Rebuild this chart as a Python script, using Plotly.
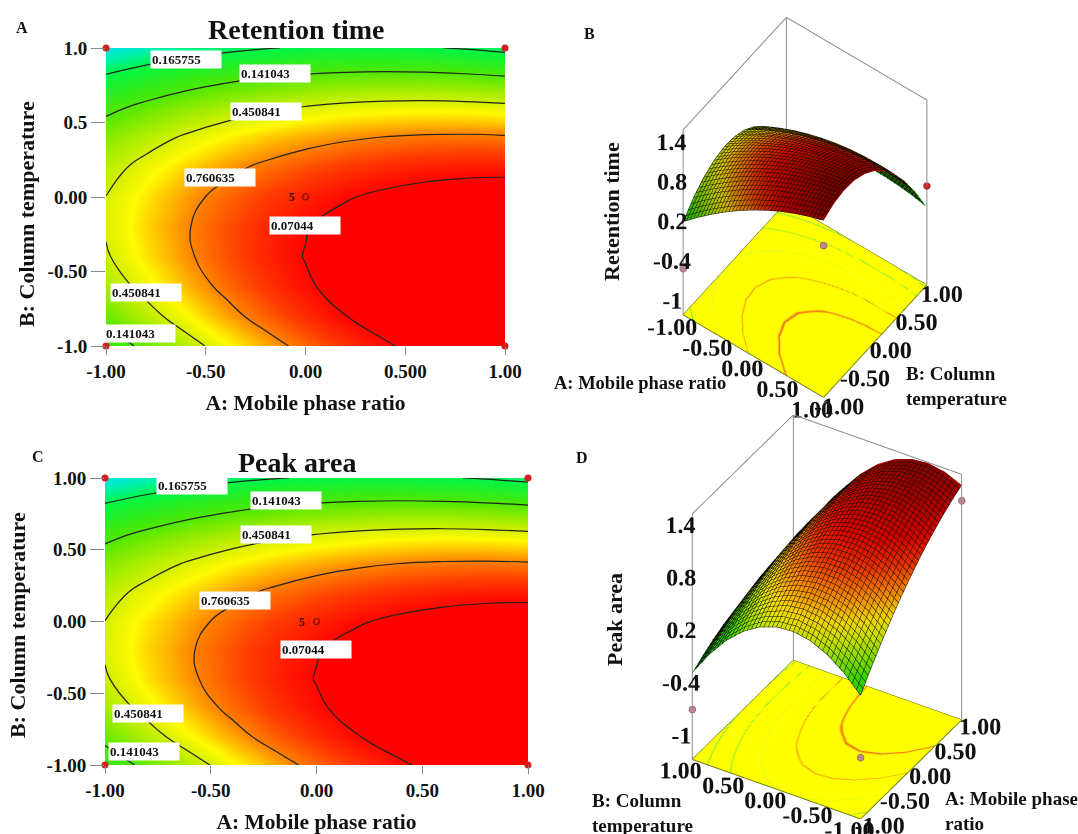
import plotly.graph_objects as go

W, H = 1078, 834
FONT = "Liberation Serif"

factor_a = [-1.0, -0.8, -0.6, -0.4, -0.2, 0.0, 0.2, 0.4, 0.6, 0.8, 1.0]
factor_b = [-1.0, -0.8, -0.6, -0.4, -0.2, 0.0, 0.2, 0.4, 0.6, 0.8, 1.0]
# rows follow factor_b, columns follow factor_a
response = [
    [0.010, 0.197, 0.371, 0.531, 0.678, 0.811, 0.931, 1.038, 1.131, 1.211, 1.278],
    [0.202, 0.378, 0.541, 0.691, 0.827, 0.949, 1.058, 1.154, 1.237, 1.306, 1.362],
    [0.342, 0.507, 0.660, 0.798, 0.923, 1.035, 1.133, 1.219, 1.290, 1.349, 1.394],
    [0.430, 0.585, 0.726, 0.854, 0.968, 1.069, 1.157, 1.231, 1.292, 1.339, 1.374],
    [0.466, 0.610, 0.740, 0.857, 0.961, 1.051, 1.128, 1.192, 1.241, 1.278, 1.302],
    [0.450, 0.583, 0.703, 0.809, 0.902, 0.981, 1.047, 1.100, 1.139, 1.165, 1.178],
    [0.382, 0.504, 0.613, 0.709, 0.790, 0.859, 0.914, 0.956, 0.985, 1.000, 1.002],
    [0.262, 0.373, 0.471, 0.556, 0.627, 0.685, 0.729, 0.761, 0.778, 0.783, 0.774],
    [0.090, 0.191, 0.278, 0.352, 0.412, 0.459, 0.493, 0.513, 0.520, 0.513, 0.494],
    [-0.134, -0.044, 0.033, 0.095, 0.145, 0.181, 0.204, 0.214, 0.209, 0.192, 0.162],
    [-0.410, -0.331, -0.266, -0.213, -0.175, -0.149, -0.137, -0.138, -0.153, -0.181, -0.222],
]
contour_levels = [-0.165755, 0.141043, 0.450841, 0.760635, 1.07044]

a_xticks = [-1, -0.5, 0, 0.5, 1]
a_xticktext = ["-1.00", "-0.50", "0.00", "0.500", "1.00"]
a_yticks = [-1, -0.5, 0, 0.5, 1]
a_yticktext = ["-1.0", "-0.50", "0.00", "0.5", "1.0"]
c_xticktext = ["-1.00", "-0.50", "0.00", "0.50", "1.00"]
c_yticktext = ["-1.00", "-0.50", "0.00", "0.50", "1.00"]

a_label_text = ["0.165755", "0.141043", "0.450841", "0.760635", "0.07044", "0.450841", "0.141043"]
a_label_x = [-0.60, -0.153, -0.198, -0.429, -0.003, -0.80, -0.83]
a_label_y = [0.926, 0.826, 0.577, 0.134, -0.188, -0.644, -0.913]
c_label_x = [-0.589, -0.144, -0.191, -0.385, -0.002, -0.797, -0.816]
c_label_y = [0.951, 0.84, 0.603, 0.143, -0.192, -0.638, -0.909]

design_a = [-1, 1, -1, 1]
design_b = [1, 1, -1, -1]
center_a = [0]
center_b = [0]
center_run_text = ["5"]

z_ticks = [-1, -0.4, 0.2, 0.8, 1.4]
z_floor = -1.4
z_ceiling = 1.4
b_point_a = [-1, 1, 1]
b_point_b = [-1, 1, -1]
b_point_z = [-0.7, 0.1, 0.9]
b_point_color = ["#b98a92", "#cc1f1f", "#b98a92"]
d_point_a = [-1, 1, -1]
d_point_b = [1, -1, -1]
d_point_z = [-0.83, 1.1, -0.7]

CMIN, CMAX = -0.45, 1.4


def t(v):
    return (v - CMIN) / (CMAX - CMIN)


heat_scale = [
    [0.0, "rgb(0,225,255)"],
    [t(-0.30), "rgb(0,240,170)"],
    [t(-0.166), "rgb(0,245,70)"],
    [t(0.14), "rgb(80,232,0)"],
    [t(0.45), "rgb(215,240,0)"],
    [t(0.55), "rgb(255,250,0)"],
    [t(0.76), "rgb(255,125,0)"],
    [t(0.90), "rgb(255,60,0)"],
    [t(1.07), "rgb(255,0,0)"],
    [1.0, "rgb(255,0,0)"],
]
surface_scale = [
    [0.0, "rgb(0,130,40)"],
    [t(-0.166), "rgb(0,190,30)"],
    [t(0.14), "rgb(60,225,0)"],
    [t(0.45), "rgb(215,235,0)"],
    [t(0.55), "rgb(250,225,0)"],
    [t(0.76), "rgb(250,120,0)"],
    [t(0.90), "rgb(240,50,0)"],
    [t(1.07), "rgb(220,0,0)"],
    [1.0, "rgb(130,0,0)"],
]

YEL = "rgb(255,255,0)"
level_colors = ["rgb(90,225,90)", "rgb(110,225,70)", "rgb(225,245,40)", "rgb(235,120,25)", "rgb(235,90,25)"]
level_widths = [0.016, 0.014, 0.012, 0.008, 0.008]
base_scale = [[0.0, YEL]]
for lv, col, wd in zip(contour_levels, level_colors, level_widths):
    base_scale += [[t(lv - wd), YEL], [t(lv), col], [t(lv + wd), YEL]]
base_scale.append([1.0, YEL])


def px_x(p):
    return p / W


def px_y(p):
    return 1 - p / H


fig = go.Figure()


def panel_2d(ax, x_dom, y_dom, xt, yt, lx, ly, x_title):
    sfx = "" if ax == 1 else str(ax)
    xa, ya = "x" + sfx, "y" + sfx
    fig.add_trace(go.Heatmap(x=factor_a, y=factor_b, z=response, zmin=CMIN, zmax=CMAX, colorscale=heat_scale,
                             zsmooth="best", showscale=False, hoverinfo="skip", xaxis=xa, yaxis=ya))
    fig.add_trace(go.Contour(x=factor_a, y=factor_b, z=response, showscale=False, hoverinfo="skip", xaxis=xa, yaxis=ya,
                             contours=dict(coloring="none", start=contour_levels[0], end=contour_levels[-1],
                                           size=contour_levels[1] - contour_levels[0]),
                             line=dict(color="rgb(35,35,30)", width=1.2, smoothing=1.3)))
    fig.add_trace(go.Scatter(x=design_a, y=design_b, mode="markers", cliponaxis=False, hoverinfo="skip", xaxis=xa, yaxis=ya,
                             marker=dict(color="#d21f1f", size=7)))
    fig.add_trace(go.Scatter(x=center_a, y=center_b, mode="markers", cliponaxis=False, hoverinfo="skip", xaxis=xa, yaxis=ya,
                             marker=dict(color="rgba(0,0,0,0)", size=6, line=dict(color="#6a1010", width=1.2))))
    tickfont = dict(family=FONT, size=19, color="#111", weight="bold")
    titlefont = dict(family=FONT, size=21.5, color="#111", weight="bold")
    fig.update_layout({
        ("xaxis" + sfx): dict(domain=x_dom, range=[-1, 1], tickvals=a_xticks, ticktext=xt, ticks="outside", ticklen=8,
                              tickcolor="#888", showgrid=False, zeroline=False, tickfont=tickfont, anchor=ya,
                              automargin=False, title=dict(text=x_title, font=titlefont, standoff=14)),
        ("yaxis" + sfx): dict(domain=y_dom, range=[-1, 1], tickvals=a_yticks, ticktext=yt, ticks="outside", ticklen=14,
                              tickcolor="#888", showgrid=False, zeroline=False, tickfont=tickfont, anchor=xa,
                              automargin=False),
    })
    for txt, x, y in zip(a_label_text, lx, ly):
        fig.add_annotation(x=x, y=y, xref=xa, yref=ya, text=txt, showarrow=False, bgcolor="white", width=68, height=15,
                           align="left", font=dict(family=FONT, size=13, color="#111", weight="bold"))
    fig.add_annotation(x=-0.07, y=0, xref=xa, yref=ya, text=center_run_text[0], showarrow=False,
                       font=dict(family=FONT, size=12, color="#300", weight="bold"))


panel_2d(1, [px_x(106), px_x(505)], [px_y(346), px_y(48)], a_xticktext, a_yticktext, a_label_x, a_label_y,
         "A: Mobile phase ratio")
panel_2d(2, [px_x(105), px_x(528)], [px_y(765), px_y(478)], c_xticktext, c_yticktext, c_label_x, c_label_y,
         "A: Mobile phase ratio")


def panel_3d(scene, x_dom, y_dom, eye, center, pa, pb, pz, pcolors, corner_path, aspect_xy, aspect_z, ambient, len_xy, len_z):
    fig.add_trace(go.Surface(x=factor_a, y=factor_b, z=response, surfacecolor=response, cmin=CMIN, cmax=CMAX,
                             colorscale=surface_scale, showscale=False, hoverinfo="skip", scene=scene,
                             lighting=dict(ambient=ambient, diffuse=0.15, specular=0.0, roughness=0.9),
                             contours=dict(
                                 x=dict(show=True, start=-1, end=1, size=0.05, color="#120a00", width=1, highlight=False),
                                 y=dict(show=True, start=-1, end=1, size=0.05, color="#120a00", width=1, highlight=False),
                                 z=dict(highlight=False))))
    floor = [[z_floor] * len(factor_a) for _ in factor_b]
    fig.add_trace(go.Surface(x=factor_a, y=factor_b, z=floor, surfacecolor=response, cmin=CMIN, cmax=CMAX,
                             colorscale=base_scale, showscale=False, hoverinfo="skip", scene=scene,
                             lighting=dict(ambient=1, diffuse=0, specular=0),
                             contours=dict(x=dict(highlight=False), y=dict(highlight=False), z=dict(highlight=False))))
    fig.add_trace(go.Scatter3d(x=[-1, 1, 1, -1, -1], y=[-1, -1, 1, 1, -1], z=[z_floor] * 5, mode="lines",
                               line=dict(color="rgb(110,125,20)", width=2), hoverinfo="skip", scene=scene))
    xs, ys, zs = corner_path
    fig.add_trace(go.Scatter3d(x=xs, y=ys, z=zs, mode="lines", line=dict(color="#8a8a8a", width=2),
                               hoverinfo="skip", scene=scene))
    fig.add_trace(go.Scatter3d(x=pa, y=pb, z=pz, mode="markers", hoverinfo="skip", scene=scene,
                               marker=dict(color=pcolors, size=4, line=dict(color="#7a3a44", width=1))))
    common = dict(showbackground=False, showgrid=False, zeroline=False, showline=False, showspikes=False,
                  ticks="outside", tickcolor="white", tickangle=0, title=dict(text=""),
                  tickfont=dict(family=FONT, size=17, color="#111", weight="bold"))
    fig.update_layout({scene: dict(
        domain=dict(x=x_dom, y=y_dom),
        aspectmode="manual", aspectratio=dict(x=aspect_xy, y=aspect_xy, z=aspect_z),
        camera=dict(eye=eye, center=center, up=dict(x=0, y=0, z=1), projection=dict(type="orthographic")),
        xaxis=dict(range=[-1, 1], tickvals=a_xticks, ticktext=c_xticktext, ticklen=len_xy, **common),
        yaxis=dict(range=[-1, 1], tickvals=a_yticks, ticktext=c_yticktext, ticklen=len_xy, **common),
        zaxis=dict(range=[z_floor, z_ceiling], tickvals=z_ticks, ticktext=["-1", "-0.4", "0.2", "0.8", "1.4"],
                   ticklen=len_z, **common),
    )})


zl, zh = z_floor, z_ceiling
# frame for B: back corner is A=-1, B=1
path_b = ([-1, -1, -1, 1, 1, None, -1, -1],
          [-1, -1, 1, 1, 1, None, 1, 1],
          [zl, zh, zh, zh, zl, None, zh, zl])
# frame for D: back corner is A=1, B=1
path_d = ([-1, -1, 1, 1, 1, None, 1, 1],
          [1, 1, 1, -1, -1, None, 1, 1],
          [zl, zh, zh, zh, zl, None, zh, zl])

panel_3d("scene", [px_x(590), px_x(1020)], [px_y(430), px_y(10)],
         dict(x=1.33, y=-1.81, z=2.9), dict(x=0, y=0, z=-0.10), b_point_a, b_point_b, b_point_z, b_point_color, path_b,
         0.83, 1.47, 0.8, 1, 20)
panel_3d("scene2", [px_x(607), px_x(1047)], [px_y(834), px_y(415)],
         dict(x=-2.23, y=-1.34, z=1.85), dict(x=0, y=0, z=-0.045), d_point_a, d_point_b, d_point_z, "#b98a92", path_d,
         0.937, 1.45, 0.95, 4, 12)


def note(text, x, y, size=17, angle=0, xanchor="center", align="center"):
    fig.add_annotation(xref="paper", yref="paper", x=px_x(x), y=px_y(y), text=text, showarrow=False, textangle=angle,
                       xanchor=xanchor, yanchor="middle", align=align,
                       font=dict(family=FONT, size=size, color="#111", weight="bold"))


note("A", 22, 27, 16)
note("B", 589, 34, 16)
note("C", 38, 456, 16)
note("D", 582, 457, 16)
note("Retention time", 296, 29, 28)
note("Peak area", 297, 462, 28)
note("B: Column temperature", 27, 214, 22, -90)
note("B: Column temperature", 17, 625, 22, -90)
note("Retention time", 612, 212, 22, -90)
note("Peak area", 614, 620, 22, -90)
note("A: Mobile phase ratio", 640, 383, 18.5)
note("B: Column<br>temperature", 904, 386, 19, xanchor="left", align="left")
note("B: Column<br>temperature", 590, 813, 19, xanchor="left", align="left")
note("A: Mobile phase<br>ratio", 943, 811, 19, xanchor="left", align="left")

fig.update_layout(width=W, height=H, margin=dict(l=0, r=0, t=0, b=0), showlegend=False,
                  paper_bgcolor="white", plot_bgcolor="white", font=dict(family=FONT))
fig.write_html("out.html", config={"displayModeBar": False}, post_script="document.body.style.margin='0';")
